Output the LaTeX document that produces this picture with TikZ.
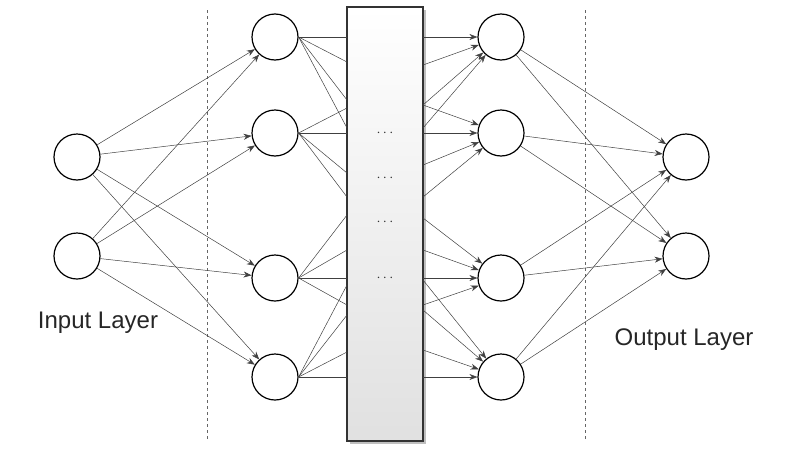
\documentclass[tikz,border=0pt]{standalone}
\usepackage{fontspec}
\setmainfont{Liberation Sans}
\usetikzlibrary{arrows.meta}
\begin{document}
\begin{tikzpicture}[x=1pt,y=-1pt,
  neuron/.style={circle,draw,line width=1.2pt,minimum size=46pt,inner sep=0pt,fill=white},
  conn/.style={draw=black!75,line width=0.5pt},
  arr/.style={conn,-{Stealth[length=8pt,width=6pt]}},
  lbl/.style={font=\fontsize{24pt}{24pt}\selectfont,text=black!85}]
\useasboundingbox (0,0) rectangle (800,450);
\draw[dashed,black!60,line width=0.4pt] (207,10) -- (207,440);
\draw[dashed,black!60,line width=0.4pt] (585,10) -- (585,440);
\node[neuron] (i1) at (77,157) {};
\node[neuron] (i2) at (77,256) {};
\foreach \n/\y in {1/37,2/133,3/278,4/377}{
  \node[neuron] (a\n) at (275,\y) {};
  \node[neuron] (b\n) at (501,\y) {};
}
\node[neuron] (o1) at (686,157) {};
\node[neuron] (o2) at (686,256) {};
% rect
\fill[black!25] (350,10) rectangle (426,444);
\shade[top color=white,bottom color=black!12,draw=black!80,line width=1.1pt] (347,7) rectangle (423,441);
\foreach \n/\ys in {1/{37,62,100,128},2/{108,133,173,197},3/{215,250,278,305},4/{285,315,352,377}}{
  \foreach \t in \ys { \coordinate (L) at (347,\t); \draw[conn] (a\n.east) -- (L); }
}
\foreach \n/\ys in {1/{37,65,105,128},2/{105,133,165,197},3/{218,250,278,305},4/{280,310,350,377}}{
  \foreach \t in \ys { \coordinate (Rr) at (423,\t); \draw[arr] (Rr) -- (b\n); }
}
\foreach \i in {1,2}{\foreach \n in {1,2,3,4}{
  \draw[arr] (i\i) -- (a\n);
  \draw[arr] (b\n) -- (o\i);
}}
\foreach \y [count=\k] in {133,178,222,278}{\node[font=\Large,text=black!80] (d\k) at (385,\y) {$\cdots$};}
\node[lbl] (inl) at (98,323) {Input Layer};
\node[lbl] (outl) at (684,340) {Output Layer};
\end{tikzpicture}
\end{document}
